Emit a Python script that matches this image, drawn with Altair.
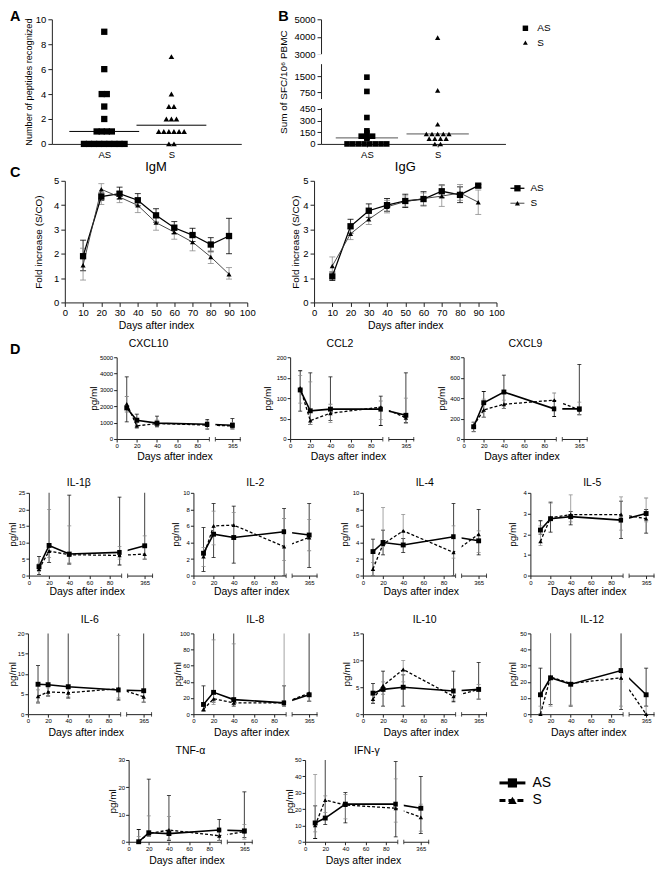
import json
import altair as alt
import pandas as pd

FONT = "Liberation Sans"
GROUPS = ["AS", "S"]

# ---------------- Panel A : number of peptides recognized ----------------
A_AS = [9, 6, 4, 4, 3, 2, 1, 1, 1, 1, 0, 0, 0, 0, 0, 0, 0, 0, 0]
A_S = [7, 4, 3, 3, 2, 2, 2, 1, 1, 1, 1, 1, 1, 0, 0]
A_MEDIAN = [1.0, 1.5]
A_TICKS = [0, 2, 4, 6, 8, 10]

# ---------------- Panel B : sum of SFC / 10^6 PBMC ----------------
B_AS = [1450, 780, 338, 167, 141, 99, 99, 99, 86, 73, 0, 0, 0, 0, 0, 0, 0, 0]
B_S = [3950, 830, 253, 128, 128, 128, 128, 128, 68, 68, 68, 68, 0, 0]
B_MEDIAN = [77, 128]
B_TICKS = [0, 150, 300, 450, 750, 1500, 3000, 4000, 5000]
B_BREAK_DOMAIN = [0, 460, 600, 750, 1500, 2100, 3000, 5000]
B_BREAK_RANGE = [125, 89, 80, 73, 57, 45, 35, 0]
B_GAP_LO = [460, 2100]
B_GAP_HI = [600, 3000]

# ---------------- Panel C : IgM / IgG ----------------
C_DAYS = [10, 20, 30, 40, 50, 60, 70, 80, 90]
IGM_AS = [1.9, 4.35, 4.47, 4.2, 3.58, 3.07, 2.77, 2.38, 2.73]
IGM_AS_LO = [1.3, 4.2, 4.25, 3.97, 3.3, 2.82, 2.5, 2.08, 2.0]
IGM_AS_HI = [2.56, 4.5, 4.74, 4.47, 3.85, 3.32, 3.05, 2.66, 3.46]
IGM_S = [1.53, 4.65, 4.33, 3.99, 3.28, 2.89, 2.48, 1.87, 1.16]
IGM_S_LO = [0.92, 4.03, 4.1, 3.69, 2.97, 2.6, 2.12, 1.6, 0.96]
IGM_S_HI = [2.23, 4.88, 4.55, 4.28, 3.58, 3.18, 2.82, 2.12, 1.43]
IGG_AS = [1.07, 3.13, 3.77, 4.0, 4.17, 4.25, 4.57, 4.42, 4.8]
IGG_AS_LO = [0.9, 2.85, 3.5, 3.75, 3.9, 3.97, 4.3, 4.1, 4.72]
IGG_AS_HI = [1.25, 3.42, 4.05, 4.27, 4.45, 4.55, 4.83, 4.75, 4.85]
IGG_S = [1.5, 2.82, 3.42, 3.93, 4.15, 4.27, 4.37, 4.5, 4.12]
IGG_S_LO = [1.25, 2.58, 3.2, 3.68, 3.95, 4.0, 3.95, 4.2, 3.62]
IGG_S_HI = [1.87, 3.05, 3.65, 4.2, 4.38, 4.5, 4.8, 4.85, 4.62]

# ---------------- Panel D : cytokines (pg/ml) ----------------
D_DAYS = [10, 20, 40, 90, 365]
D_XTICKS = [0, 20, 40, 60, 80, 365]
D_XDOMAIN = [0, 92, 352, 371]
D_BREAK = [92, 352]

CXCL10_AS = [1900, 1150, 970, 900, 840]
CXCL10_AS_LO = [1050, 800, 750, 600, 620]
CXCL10_AS_HI = [3800, 1520, 1400, 1200, 1250]
CXCL10_S = [2150, 800, 950, 850, 800]
CXCL10_S_LO = [1650, 650, 800, 650, 600]
CXCL10_S_HI = [2600, 1000, 1150, 1100, 1000]

CCL2_AS = [120, 69, 73, 73, 58]
CCL2_AS_LO = [68, 35, 45, 33, 40]
CCL2_AS_HI = [167, 162, 152, 105, 162]
CCL2_S = [125, 45, 63, 78, 52]
CCL2_S_LO = [88, 35, 40, 48, 38]
CCL2_S_HI = [155, 140, 85, 93, 100]

CXCL9_AS = [120, 355, 460, 295, 295]
CXCL9_AS_LO = [75, 215, 300, 220, 240]
CXCL9_AS_HI = [165, 465, 625, 375, 730]
CXCL9_S = [130, 285, 340, 380, 285]
CXCL9_S_LO = [70, 210, 300, 310, 235]
CXCL9_S_HI = [160, 390, 380, 450, 360]

IL1B_AS = [2.7, 9.1, 6.5, 7.0, 9.0]
IL1B_AS_LO = [0.3, 4.0, 3.5, 3.2, 5.0]
IL1B_AS_HI = [5.8, 30, 24.3, 23.7, 30]
IL1B_S = [2.0, 7.4, 6.3, 6.1, 6.5]
IL1B_S_LO = [1.2, 5.5, 3.8, 5.0, 5.0]
IL1B_S_HI = [3.5, 20, 15, 8.8, 12]

IL2_AS = [2.7, 5.0, 4.6, 5.3, 4.9]
IL2_AS_LO = [0.5, 2.2, 1.5, 0, 1.0]
IL2_AS_HI = [5.8, 8.7, 8.4, 8.1, 8.7]
IL2_S = [2.3, 6.0, 6.1, 3.5, 4.6]
IL2_S_LO = [1.1, 3.7, 4.6, 1.8, 3.0]
IL2_S_HI = [3.4, 7.8, 7.6, 6.9, 6.8]

IL4_AS = [2.9, 4.0, 3.7, 4.7, 4.2]
IL4_AS_LO = [0, 2.5, 2.8, 0, 2.5]
IL4_AS_HI = [4.4, 5.5, 4.5, 8.7, 8.0]
IL4_S = [0.8, 3.8, 5.4, 2.8, 5.0]
IL4_S_LO = [0, 3.5, 3.5, 2.1, 2.8]
IL4_S_HI = [1.6, 8.2, 7.4, 6.0, 5.4]

IL5_AS = [2.2, 2.75, 2.85, 2.68, 3.0]
IL5_AS_LO = [2.0, 2.1, 2.45, 1.8, 2.05]
IL5_AS_HI = [2.65, 3.55, 3.1, 3.6, 3.2]
IL5_S = [1.65, 2.8, 2.95, 2.95, 2.75]
IL5_S_LO = [1.45, 2.7, 2.6, 2.2, 2.6]
IL5_S_HI = [2.4, 3.5, 3.9, 3.8, 3.75]

IL6_AS = [7.4, 7.3, 6.8, 6.0, 5.8]
IL6_AS_LO = [3.0, 4.5, 4.0, 3.5, 3.0]
IL6_AS_HI = [12, 30, 30, 30, 30]
IL6_S = [4.4, 5.5, 5.3, 6.3, 4.3]
IL6_S_LO = [2.7, 4.5, 4.3, 4.0, 3.0]
IL6_S_HI = [6.0, 6.5, 6.2, 19.5, 6.0]

IL8_AS = [12, 27, 18, 14, 24]
IL8_AS_LO = [4, 15, 10, 10, 16]
IL8_AS_HI = [35, 120, 120, 35, 120]
IL8_S = [6, 19, 14, 14, 26]
IL8_S_LO = [3, 12, 12, 10, 16]
IL8_S_HI = [10, 92, 87, 120, 120]

IL10_AS = [3.9, 4.6, 5.0, 4.3, 4.6]
IL10_AS_LO = [2.0, 1.5, 1.5, 2.3, 2.8]
IL10_AS_HI = [5.7, 8.0, 7.3, 8.0, 9.6]
IL10_S = [2.8, 5.3, 8.3, 3.3, 4.6]
IL10_S_LO = [2.1, 3.7, 6.0, 2.6, 2.8]
IL10_S_HI = [3.8, 6.0, 10.0, 4.0, 5.5]

IL12_AS = [12, 22.5, 18.5, 27, 12]
IL12_AS_LO = [0, 6, 5, 3, 5]
IL12_AS_HI = [28.5, 60, 60, 60, 28.5]
IL12_S = [0, 23, 19, 22.5, 0]
IL12_S_LO = [0, 5, 5.5, 5, 0]
IL12_S_HI = [5, 60, 60, 60, 5]

TNF_AS = [0, 3.3, 3.0, 4.3, 4.0]
TNF_AS_LO = [0, 2.0, 0.5, 0.5, 1.5]
TNF_AS_HI = [4.5, 23, 17, 8.2, 18.3]
TNF_S = [0, 3.0, 4.3, 2.2, 3.7]
TNF_S_LO = [0, 2.0, 1.0, 0.5, 1.0]
TNF_S_HI = [2.0, 9.5, 9.3, 4.0, 6.3]

IFNG_AS = [11.5, 14.5, 23, 23, 20.5]
IFNG_AS_LO = [2, 10.5, 11.5, 3, 5]
IFNG_AS_HI = [22, 60, 30, 49, 40]
IFNG_S = [10, 25.5, 22.5, 20.5, 15]
IFNG_S_LO = [6, 18, 14, 12, 6.5]
IFNG_S_HI = [41, 28, 29, 38.5, 23]

# ---------------- styles ----------------
C_STYLE = {
    "AS": dict(shape="square", size=40, lw=1.3, dash=None, line="black", err="black"),
    "S": dict(shape="triangle-up", size=26, lw=0.9, dash=None, line="#333333", err="#8c8c8c"),
}
D_STYLE = {
    "AS": dict(shape="square", size=24, lw=1.6, dash=None, line="black", err="#111111"),
    "S": dict(shape="triangle-up", size=20, lw=1.3, dash=[3, 2], line="black", err="#8c8c8c"),
}
AXIS_COLOR = "#222222"


def one_row():
    return pd.DataFrame({"k": [0]})


def long_df(days, series):
    rows = []
    for g, (m, lo, hi) in series.items():
        for d, a, b, c in zip(days, m, lo, hi):
            rows.append(dict(group=g, day=d, mean=a, lo=b, hi=c))
    return pd.DataFrame(rows)


def spacer(w, h, top, bottom, letters=()):
    layers = [
        alt.Chart(one_row()).mark_rect(opacity=0).encode(
            x=alt.value(0), x2=alt.value(w), y=alt.value(-top), y2=alt.value(h + bottom)
        )
    ]
    for txt, lx, ly in letters:
        layers.append(
            alt.Chart(one_row()).mark_text(
                text=txt, font="Liberation Sans", fontSize=14.5, fontWeight="bold",
                align="left", baseline="top", color="black"
            ).encode(x=alt.value(lx), y=alt.value(ly))
        )
    return alt.layer(*layers).properties(width=w, height=h)


def series_layers(df, X, yscale, yaxis, style, cap_w, clip):
    layers = []
    base = alt.Chart(df)
    Y = alt.Y("mean:Q", scale=yscale, axis=yaxis)
    for g in GROUPS:
        st = style[g]
        sub = base.transform_filter(alt.datum.group == g)
        layers.append(sub.mark_rule(color=st["err"], strokeWidth=0.8, clip=clip).encode(
            x=X, y=alt.Y("lo:Q", scale=yscale, axis=yaxis), y2="hi:Q"))
        for fld in ["lo", "hi"]:
            layers.append(sub.mark_tick(orient="horizontal", size=cap_w, thickness=0.8,
                                        color=st["err"], clip=clip, opacity=1).encode(
                x=X, y=alt.Y(f"{fld}:Q", scale=yscale, axis=yaxis)))
    for g in GROUPS:
        st = style[g]
        sub = base.transform_filter(alt.datum.group == g)
        lk = dict(color=st["line"], strokeWidth=st["lw"])
        if st["dash"]:
            lk["strokeDash"] = st["dash"]
        layers.append(sub.mark_line(**lk).encode(x=X, y=Y))
    for g in GROUPS:
        st = style[g]
        sub = base.transform_filter(alt.datum.group == g)
        layers.append(sub.mark_point(shape=st["shape"], filled=True, size=st["size"],
                                     color="black", opacity=1, strokeWidth=0).encode(x=X, y=Y))
    return layers


# ---------------- dot plots (A, B) ----------------
def dot_df(as_vals, s_vals):
    return pd.DataFrame({"group": ["AS"] * len(as_vals) + ["S"] * len(s_vals),
                         "v": as_vals + s_vals})


GROUP_INDEX = f"indexof({json.dumps(GROUPS)}, datum.group)"
LABEL_EXPR = f"{json.dumps(GROUPS)}[datum.value]"


def dot_panel(df, med, xdomain, step, half, yscale, yaxis, W, H, shapes_size, med_color, xaxis_kw, extra=()):
    X = alt.X("pos:Q", scale=alt.Scale(domain=xdomain, nice=False, zero=False),
              axis=alt.Axis(values=[0, 1], labelExpr=LABEL_EXPR, title=None, grid=False,
                            labelFontSize=9.5, labelFlush=False, domainColor=AXIS_COLOR,
                            tickColor=AXIS_COLOR, tickCount=10, **xaxis_kw))
    Y = alt.Y("v:Q", scale=yscale, axis=yaxis)
    base = alt.Chart(df).transform_window(
        rank="row_number()", n="count()", groupby=["group", "v"], frame=[None, None]
    ).transform_calculate(
        pos=f"{GROUP_INDEX} + (datum.rank - (datum.n + 1) / 2) * {step}"
    )
    layers = []
    mdf = pd.DataFrame({"group": GROUPS, "v": med})
    layers.append(alt.Chart(mdf).transform_calculate(
        pos=f"{GROUP_INDEX} - {half}", pos2=f"{GROUP_INDEX} + {half}"
    ).mark_rule(color=med_color, strokeWidth=1).encode(x=X, x2="pos2:Q", y=Y))
    shapes = {"AS": "square", "S": "triangle-up"}
    for g in GROUPS:
        layers.append(base.transform_filter(alt.datum.group == g).mark_point(
            shape=shapes[g], filled=True, size=shapes_size[g], color="black", opacity=1, strokeWidth=0
        ).encode(x=X, y=Y))
    layers.extend(extra)
    return alt.layer(*layers).properties(width=W, height=H)


A_W, A_H = 190, 125
a_yaxis = alt.Axis(values=A_TICKS, title="Number of peptides recognized", titleFontSize=9.2,
                   titleX=-23, titleBaseline="middle", labelFontSize=9.5, tickSize=4,
                   labelPadding=2, grid=False, domainColor=AXIS_COLOR, tickColor=AXIS_COLOR,
                   tickCount=20, format="d")
panel_a = dot_panel(dot_df(A_AS, A_S), A_MEDIAN, [-0.78, 2.04], 0.0756, 0.52,
                    alt.Scale(domain=[0, 10], nice=False), a_yaxis, A_W, A_H,
                    {"AS": 40, "S": 32}, "black", dict(tickSize=0, labelPadding=6))

B_W, B_H = 185, 125
b_yscale = alt.Scale(domain=B_BREAK_DOMAIN, range=B_BREAK_RANGE, nice=False, zero=False)
b_yaxis = alt.Axis(values=B_TICKS, title="Sum of SFC/10⁶ PBMC", titleFontSize=10,
                   titleX=-38, titleBaseline="middle", labelFontSize=9.5, tickSize=4,
                   labelPadding=2, grid=False, domainColor=AXIS_COLOR, tickColor=AXIS_COLOR,
                   labelOverlap=False, tickCount=30, format="d")
gap_df = pd.DataFrame({"lo": B_GAP_LO, "hi": B_GAP_HI})
b_mask = alt.Chart(gap_df).mark_rect(color="white").encode(
    x=alt.value(-4), x2=alt.value(3),
    y=alt.Y("lo:Q", scale=b_yscale, axis=b_yaxis), y2="hi:Q")
b_legend = []
for i, g in enumerate(GROUPS):
    yy = 9 + 14.5 * i
    b_legend.append(alt.Chart(one_row()).mark_point(
        shape={"AS": "square", "S": "triangle-up"}[g], filled=True, size=30 if g == "AS" else 24,
        color="black", opacity=1, strokeWidth=0).encode(x=alt.value(205), y=alt.value(yy)))
    b_legend.append(alt.Chart(one_row()).mark_text(
        text=g, fontSize=10, align="left", baseline="middle", color="black").encode(
        x=alt.value(217), y=alt.value(yy)))
panel_b = dot_panel(dot_df(B_AS, B_S), B_MEDIAN, [-0.648, 1.958], 0.08, 0.44,
                    b_yscale, b_yaxis, B_W, B_H, {"AS": 32, "S": 28}, "#555555",
                    dict(tickSize=3, labelPadding=3), extra=[b_mask] + b_legend)


# ---------------- C panels ----------------
C_W, C_H = 183, 122


def c_panel(title, series, ytitle_x, legend=False):
    df = long_df(C_DAYS, series)
    X = alt.X("day:Q", scale=alt.Scale(domain=[0, 100], nice=False),
              axis=alt.Axis(values=list(range(0, 101, 10)), title="Days after index",
                            titleFontSize=10.5, titleY=23.5, titleBaseline="middle",
                            labelFontSize=9.5, tickSize=4, labelPadding=1, labelFlush=False,
                            labelOverlap=False, tickCount=30, format="d",
                            grid=False, domainColor=AXIS_COLOR, tickColor=AXIS_COLOR))
    yscale = alt.Scale(domain=[0, 5], nice=False)
    yaxis = alt.Axis(values=[0, 1, 2, 3, 4, 5], title="Fold increase (S/CO)", format="d",
                     titleFontSize=10, titleX=ytitle_x, titleBaseline="middle",
                     labelFontSize=9.5, tickSize=4, labelPadding=2, grid=False, tickCount=20,
                     domainColor=AXIS_COLOR, tickColor=AXIS_COLOR)
    layers = series_layers(df, X, yscale, yaxis, C_STYLE, 6, False)
    if legend:
        for i, g in enumerate(GROUPS):
            st = C_STYLE[g]
            yy = 7.5 + 15 * i
            layers.append(alt.Chart(one_row()).mark_rule(color=st["line"], strokeWidth=st["lw"]).encode(
                x=alt.value(197), x2=alt.value(211), y=alt.value(yy)))
            layers.append(alt.Chart(one_row()).mark_point(
                shape=st["shape"], filled=True, size=st["size"], color="black", opacity=1,
                strokeWidth=0).encode(x=alt.value(204), y=alt.value(yy)))
            layers.append(alt.Chart(one_row()).mark_text(
                text=g, fontSize=10, align="left", baseline="middle", color="black").encode(
                x=alt.value(217), y=alt.value(yy)))
    return alt.layer(*layers).properties(
        width=C_W, height=C_H,
        title=alt.TitleParams(title, fontSize=13, fontWeight="normal", offset=2,
                              frame="group", anchor="middle", font=FONT))


panel_igm = c_panel("IgM", {"AS": (IGM_AS, IGM_AS_LO, IGM_AS_HI), "S": (IGM_S, IGM_S_LO, IGM_S_HI)}, -26)
panel_igg = c_panel("IgG", {"AS": (IGG_AS, IGG_AS_LO, IGG_AS_HI), "S": (IGG_S, IGG_S_LO, IGG_S_HI)}, -19,
                    legend=True)

# ---------------- D panels ----------------
D_W = 124
D_XRANGE = [0, 93, 99, 124]


def d_panel(title, ymax, ystep, series, H, title_offset, xtitle_y, ytitle_x, title_dx=0, legend=False):
    df = long_df(D_DAYS, series)
    xscale = alt.Scale(domain=D_XDOMAIN, range=D_XRANGE, nice=False, zero=False)
    X = alt.X("day:Q", scale=xscale,
              axis=alt.Axis(values=D_XTICKS, title="Days after index", titleFontSize=10.5,
                            titleY=xtitle_y, titleX=58, titleAlign="center",
                            titleBaseline="middle", labelFontSize=6, tickCount=40,
                            tickSize=3, labelPadding=0.5, labelFlush=False, labelOverlap=False,
                            grid=False, domainColor=AXIS_COLOR, tickColor=AXIS_COLOR))
    yscale = alt.Scale(domain=[0, ymax], nice=False)
    yaxis = alt.Axis(values=list(range(0, ymax + 1, ystep)), title="pg/ml", format="d",
                     titleFontSize=10, titleX=ytitle_x, titleBaseline="middle", tickCount=40,
                     labelFontSize=6, tickSize=3, labelPadding=1, grid=False,
                     labelOverlap=False, domainColor=AXIS_COLOR, tickColor=AXIS_COLOR)
    layers = series_layers(df, X, yscale, yaxis, D_STYLE, 4, True)
    # axis break mask
    layers.append(alt.Chart(one_row()).mark_rect(color="white").encode(
        x=alt.datum(D_BREAK[0], scale=xscale), x2=alt.datum(D_BREAK[1]),
        y=alt.value(0), y2=alt.value(H + 1.5)))
    for v in [D_BREAK[0], D_BREAK[1], D_XDOMAIN[-1]]:
        layers.append(alt.Chart(one_row()).mark_rule(color=AXIS_COLOR, strokeWidth=0.8).encode(
            x=alt.datum(v, scale=xscale), y=alt.value(H - 2), y2=alt.value(H + 2.5)))
    if legend:
        for i, g in enumerate(GROUPS):
            st = D_STYLE[g]
            yy = 23 + 17.5 * i
            rk = dict(color="black", strokeWidth=3)
            if st["dash"]:
                rk["strokeDash"] = [6, 3]
            layers.append(alt.Chart(one_row()).mark_rule(**rk).encode(
                x=alt.value(195), x2=alt.value(221), y=alt.value(yy)))
            layers.append(alt.Chart(one_row()).mark_point(
                shape=st["shape"], filled=True, size=85 if g == "AS" else 75, color="black",
                opacity=1, strokeWidth=0).encode(x=alt.value(208), y=alt.value(yy)))
            layers.append(alt.Chart(one_row()).mark_text(
                text=g, fontSize=14, align="left", baseline="middle", color="black").encode(
                x=alt.value(228), y=alt.value(yy)))
    return alt.layer(*layers).properties(
        width=D_W, height=H,
        title=alt.TitleParams(title, fontSize=10.5, fontWeight="normal", offset=title_offset,
                              frame="group", anchor="middle", dx=title_dx, font=FONT))


def ser(a, alo, ahi, s, slo, shi):
    return {"AS": (a, alo, ahi), "S": (s, slo, shi)}


H3, H4, H5, H6 = 82, 83, 81, 82
p_cxcl10 = d_panel("CXCL10", 5000, 1000, ser(CXCL10_AS, CXCL10_AS_LO, CXCL10_AS_HI, CXCL10_S, CXCL10_S_LO, CXCL10_S_HI),
                   H3, 5, 18, -23, title_dx=-30)
p_ccl2 = d_panel("CCL2", 200, 50, ser(CCL2_AS, CCL2_AS_LO, CCL2_AS_HI, CCL2_S, CCL2_S_LO, CCL2_S_HI),
                 H3, 5, 18, -23, title_dx=-12)
p_cxcl9 = d_panel("CXCL9", 800, 200, ser(CXCL9_AS, CXCL9_AS_LO, CXCL9_AS_HI, CXCL9_S, CXCL9_S_LO, CXCL9_S_HI),
                  H3, 5, 18, -22)
p_il1b = d_panel("IL-1β", 25, 5, ser(IL1B_AS, IL1B_AS_LO, IL1B_AS_HI, IL1B_S, IL1B_S_LO, IL1B_S_HI),
                 H4, 1.5, 15.5, -16, title_dx=-12)
p_il2 = d_panel("IL-2", 10, 2, ser(IL2_AS, IL2_AS_LO, IL2_AS_HI, IL2_S, IL2_S_LO, IL2_S_HI),
                H4, 1.5, 15.5, -18)
p_il4 = d_panel("IL-4", 10, 2, ser(IL4_AS, IL4_AS_LO, IL4_AS_HI, IL4_S, IL4_S_LO, IL4_S_HI),
                H4, 1.5, 15.5, -18)
p_il5 = d_panel("IL-5", 4, 1, ser(IL5_AS, IL5_AS_LO, IL5_AS_HI, IL5_S, IL5_S_LO, IL5_S_HI),
                H4, 1.5, 15.5, -17.5)
p_il6 = d_panel("IL-6", 20, 5, ser(IL6_AS, IL6_AS_LO, IL6_AS_HI, IL6_S, IL6_S_LO, IL6_S_HI),
                H5, 4.5, 18.5, -15)
p_il8 = d_panel("IL-8", 100, 20, ser(IL8_AS, IL8_AS_LO, IL8_AS_HI, IL8_S, IL8_S_LO, IL8_S_HI),
                H5, 4.5, 18.5, -16)
p_il10 = d_panel("IL-10", 15, 5, ser(IL10_AS, IL10_AS_LO, IL10_AS_HI, IL10_S, IL10_S_LO, IL10_S_HI),
                 H5, 4.5, 18.5, -16.5)
p_il12 = d_panel("IL-12", 50, 10, ser(IL12_AS, IL12_AS_LO, IL12_AS_HI, IL12_S, IL12_S_LO, IL12_S_HI),
                 H5, 4.5, 18.5, -17.5)
p_tnf = d_panel("TNF-α", 30, 10, ser(TNF_AS, TNF_AS_LO, TNF_AS_HI, TNF_S, TNF_S_LO, TNF_S_HI),
                H6, 1, 18.5, -16)
p_ifng = d_panel("IFN-γ", 50, 10, ser(IFNG_AS, IFNG_AS_LO, IFNG_AS_HI, IFNG_S, IFNG_S_LO, IFNG_S_HI),
                 H6, 1, 18.5, -16, legend=True)

# ---------------- layout ----------------
L = 8  # left boundary (page x)


def row(items):
    return alt.hconcat(*items, spacing=0, bounds="flush")


# Row 1: A (x0=50) and B (x0=320), plot top 17
row1 = row([
    spacer(50 - L, A_H, 8, 17, letters=[("A", 0, -9)]),
    panel_a,
    spacer(320 - 240, A_H, 8, 17, letters=[("B", 37, -9)]),
    panel_b,
])
# Row 2: IgM (x0=63) and IgG (x0=313), plot top 179.5
row2 = row([
    spacer(63 - L, C_H, 18.5, 32.5, letters=[("C", 0, -15)]),
    panel_igm,
    spacer(313 - 246, C_H, 18.5, 32.5),
    panel_igg,
])
# Row 3: CXCL10 (115), CCL2 (289), CXCL9 (463), plot top 356
row3 = row([
    spacer(115 - L, H3, 22, 32, letters=[("D", 0, -14)]),
    p_cxcl10, spacer(289 - 239, H3, 22, 32),
    p_ccl2, spacer(463 - 413, H3, 22, 32),
    p_cxcl9,
])
# Row 4: 27, 192, 362, 530; plot top 491.5
row4 = row([
    spacer(27 - L, H4, 21.5, 31.5),
    p_il1b, spacer(192 - 151, H4, 21.5, 31.5),
    p_il2, spacer(362 - 316, H4, 21.5, 31.5),
    p_il4, spacer(530 - 486, H4, 21.5, 31.5),
    p_il5,
])
# Row 5: 26, 192, 362, 530; plot top 632
row5 = row([
    spacer(26 - L, H5, 26, 29),
    p_il6, spacer(192 - 150, H5, 26, 29),
    p_il8, spacer(362 - 316, H5, 26, 29),
    p_il10, spacer(530 - 486, H5, 26, 29),
    p_il12,
])
# Row 6: TNF (127), IFN (304); plot top 758.5
row6 = row([
    spacer(127 - L, H6, 16.5, 25.5),
    p_tnf, spacer(304 - 251, H6, 16.5, 25.5),
    p_ifng,
])

chart = alt.vconcat(row1, row2, row3, row4, row5, row6, spacing=0).properties(
    padding=0
).configure(font=FONT).configure_view(stroke=None).configure_axis(
    labelFont=FONT, titleFont=FONT, labelColor="black", titleColor="black",
    titleFontWeight="normal", grid=False
).configure_title(color="black")

chart.save("out.html", embed_options={"renderer": "svg", "actions": False})
